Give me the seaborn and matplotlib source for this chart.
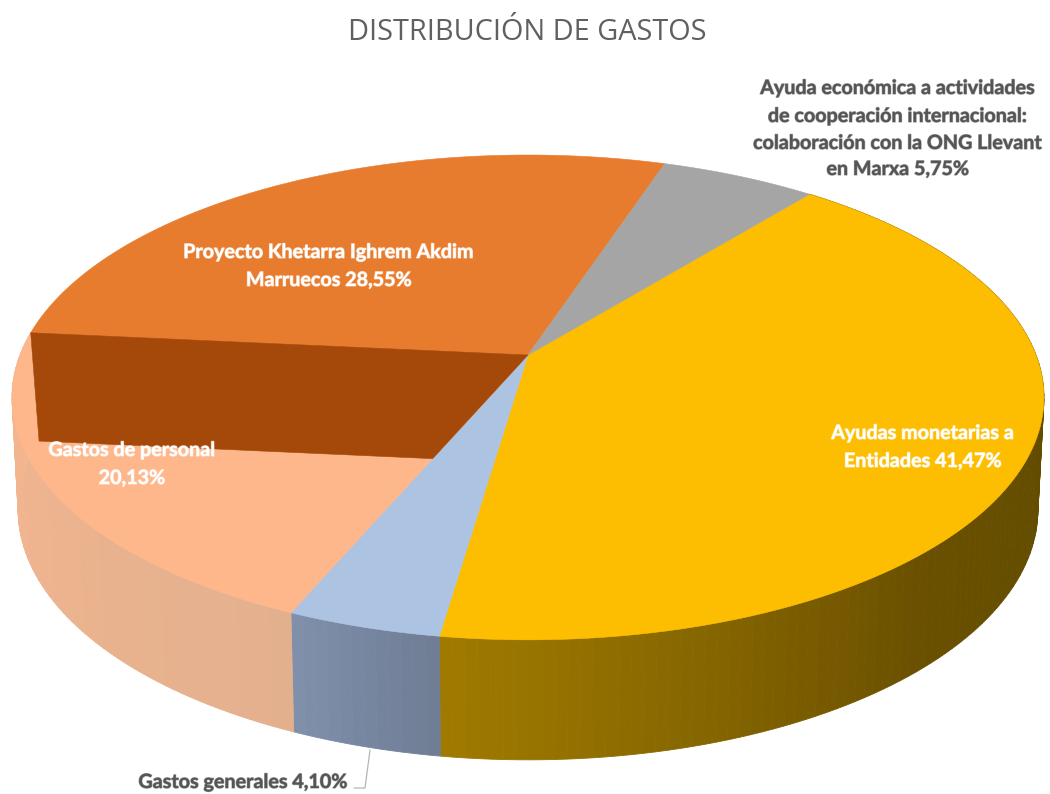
import numpy as np
import matplotlib
matplotlib.use('Agg')
import matplotlib.pyplot as plt
import matplotlib.patheffects as pe
import seaborn as sns

title = 'DISTRIBUCIÓN DE GASTOS'
# clockwise from the yellow slice
names = ['Ayudas monetarias', 'Gastos generales', 'Gastos de personal', 'Proyecto Khetarra', 'Cooperación']
values = [41.47, 4.10, 20.13, 28.55, 5.75]
top_colors = ['#fdbd00', '#adc3e2', '#fdb78b', '#e87c2e', '#a5a5a5']
wall_shades = [['#5f4a00', '#5f4a00', '#6a5000', '#a07a00'],
               ['#6f7d95', '#8090ab'],
               ['#e3b08e', '#f6b78f']]
band_color = '#a5490a'

start_angle = 39.0
persp = 0.175


def project(theta, r, top=True):
    # theta is clockwise from the back of the disc, degrees
    t = np.radians(theta)
    u, v = r * np.sin(t), r * np.cos(t)
    w = 1 + persp * v
    if top:
        return 528 + 508 * u / w, 355 - 235 * v / w
    return 528 + 502 * u / w, 466 - 242.4 * v / w


sns.set_theme(style='white')
plt.rcParams['font.family'] = ['Lato', 'DejaVu Sans']

fig, ax = plt.subplots(figsize=(10.5, 7.94), dpi=100)
ax.set_position([0, 0, 1, 1])
ax.set_xlim(0, 1050)
ax.set_ylim(794, 0)
ax.axis('off')

edges = start_angle + np.cumsum([0] + values) * 3.6

# side walls first, the top surface covers whatever lies behind it
for i, wall in enumerate(wall_shades):
    steps = max(int(values[i] * 3), 8)
    shades = sns.blend_palette(wall, steps)
    grid = np.linspace(edges[i], edges[i + 1], steps + 1)
    for k in range(steps):
        th = np.linspace(grid[k], grid[k + 1], 6)
        x1, y1 = project(th, 1.0)
        x2, y2 = project(th[::-1], 1.0, top=False)
        ax.fill(np.r_[x1, x2], np.r_[y1, y2], color=shades[k], lw=0.6, zorder=1)

for i in range(len(values)):
    th = np.linspace(edges[i], edges[i + 1], 120)
    x, y = project(th, 1.0)
    ax.fill(np.r_[528, x], np.r_[355, y], color=top_colors[i], lw=0.4, zorder=2)

# the dark wall of the orange slice, drawn over the peach one
x_rim, y_rim = project(edges[3], 1.0)
x_in, y_in = project(edges[2], 0.445)
x_low, y_low = project(edges[3], 0.985)
ax.fill([x_rim, 528, x_in, x_low + 1, x_rim],
        [y_rim, 355, y_in, y_low + 108, y_rim],
        color=band_color, lw=0.4, zorder=3)


def label(x, y, text, color, size=14.2, ha='center'):
    t = ax.text(x, y, text, color=color, fontsize=size, fontweight='bold',
                ha=ha, va='center', zorder=5)
    t.set_path_effects([pe.withStroke(linewidth=0.9, foreground=color, alpha=0.5)])
    return t


ax.text(527, 32, title, color='#606060', fontsize=20.8, ha='center', va='center',
        family=['Open Sans', 'DejaVu Sans'])

grey = '#555555'
label(898, 88, 'Ayuda económica a actividades', grey)
label(898, 116, 'de cooperación internacional:', grey)
label(898, 143, 'colaboración con la ONG Llevant', grey)
label(898, 169, 'en Marxa 5,75%', grey)

label(329, 252, 'Proyecto Khetarra Ighrem Akdim', 'white')
label(329, 280, 'Marruecos 28,55%', 'white')
label(923, 433, 'Ayudas monetarias a', 'white')
label(923, 461, 'Entidades 41,47%', 'white')
label(132, 450, 'Gastos de personal', 'white')
label(132, 478, '20,13%', 'white')
label(348, 782, 'Gastos generales 4,10%', grey, ha='right')

ax.plot([354, 365, 370], [788, 788, 750], color='#b5b5b5', lw=0.9, zorder=1)

fig.savefig('out.png', dpi=100, facecolor='white')
